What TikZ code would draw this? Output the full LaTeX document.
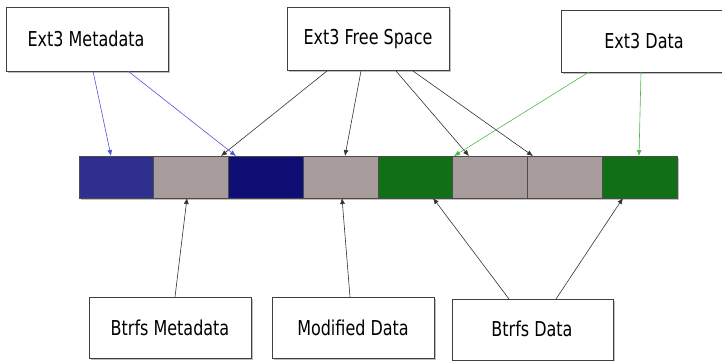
\documentclass[tikz,border=0pt]{standalone}
\usepackage{fontspec}
\setmainfont{DejaVu Sans}[FakeStretch=0.78]
\usetikzlibrary{shadows,arrows.meta}
\definecolor{cblue}{HTML}{2F2F90}
\definecolor{cnavy}{HTML}{0E0E75}
\definecolor{cgrey}{HTML}{A89B9B}
\definecolor{cgreen}{HTML}{0F7015}
\definecolor{lblue}{HTML}{5555D5}
\definecolor{lgreen}{HTML}{4DB84D}
\definecolor{lblack}{HTML}{333333}
\tikzset{
  label box/.style={draw=black!75, line width=0.7pt, fill=white, inner sep=0pt,
    drop shadow={shadow xshift=2pt, shadow yshift=-2pt, opacity=0.25, fill=black}},
  cell/.style={draw=black!70, line width=0.6pt, inner sep=0pt, outer sep=0pt,
    minimum width=74.75pt, minimum height=42pt},
  arr/.style={line width=0.6pt, -{Latex[length=6pt,width=5pt]}},
  txt/.style={font=\fontsize{20.5}{22}\selectfont, text=black}
}
\begin{document}
\begin{tikzpicture}[x=1pt,y=-1pt]
\useasboundingbox (0,0) rectangle (722,360);
\begin{scope}
\clip (0,0) rectangle (722,360);
% label boxes
\draw[label box] (6,7) rectangle (168,71);
\node[txt] (em) at (86,39) {Ext3 Metadata};
\draw[label box] (287,7) rectangle (449,70);
\node[txt] (ef) at (368,39) {Ext3 Free Space};
\draw[label box] (561,10) rectangle (726,72);
\node[txt] (ed) at (644,41) {Ext3 Data};
\draw[label box] (89,297) rectangle (251,358);
\node[txt] (bm) at (170,328) {Btrfs Metadata};
\draw[label box] (272,297) rectangle (434,358);
\node[txt] (md) at (353,328) {Modified Data};
\draw[label box] (452,299) rectangle (613,360);
\node[txt] (bd) at (532,329) {Btrfs Data};
% bar with shadow
\fill[black, opacity=0.25] (81,158) rectangle (679,200);
\node[cell, fill=cblue, anchor=north west] (c1) at (79,156) {};
\node[cell, fill=cgrey, anchor=north west] (c2) at (c1.north east) {};
\node[cell, fill=cnavy, anchor=north west] (c3) at (c2.north east) {};
\node[cell, fill=cgrey, anchor=north west] (c4) at (c3.north east) {};
\node[cell, fill=cgreen, anchor=north west] (c5) at (c4.north east) {};
\node[cell, fill=cgrey, anchor=north west] (c6) at (c5.north east) {};
\node[cell, fill=cgrey, anchor=north west] (c7) at (c6.north east) {};
\node[cell, fill=cgreen, anchor=north west] (c8) at (c7.north east) {};
% coordinates for connector ends
\coordinate (em1) at (93,71);  \coordinate (c1t) at (111,156);
\coordinate (em2) at (128,71); \coordinate (c3t) at (236,156);
\coordinate (ef1) at (327,71); \coordinate (c2t) at (221,156);
\coordinate (ef2) at (361,71); \coordinate (c4t) at (345,156);
\coordinate (ef3) at (396,71); \coordinate (c6t) at (469,156);
\coordinate (ef4) at (413,71); \coordinate (c7t) at (533,156);
\coordinate (ed1) at (589,72); \coordinate (c5t) at (454,156);
\coordinate (ed2) at (641,72); \coordinate (c8t) at (639,156);
\coordinate (bm1) at (175,297); \coordinate (c2b) at (187,198);
\coordinate (md1) at (350,297); \coordinate (c4b) at (342,198);
\coordinate (bd1) at (509,299); \coordinate (c5b) at (433,198);
\coordinate (bd2) at (556,299); \coordinate (c8b) at (623,198);
% connectors
\draw[arr, lblue] (em1) -- (c1t);
\draw[arr, lblue] (em2) -- (c3t);
\draw[arr, lblack] (ef1) -- (c2t);
\draw[arr, lblack] (ef2) -- (c4t);
\draw[arr, lblack] (ef3) -- (c6t);
\draw[arr, lblack] (ef4) -- (c7t);
\draw[arr, lgreen] (ed1) -- (c5t);
\draw[arr, lgreen] (ed2) -- (c8t);
\draw[arr, lblack] (bm1) -- (c2b);
\draw[arr, lblack] (md1) -- (c4b);
\draw[arr, lblack] (bd1) -- (c5b);
\draw[arr, lblack] (bd2) -- (c8b);
\end{scope}
\end{tikzpicture}
\end{document}
